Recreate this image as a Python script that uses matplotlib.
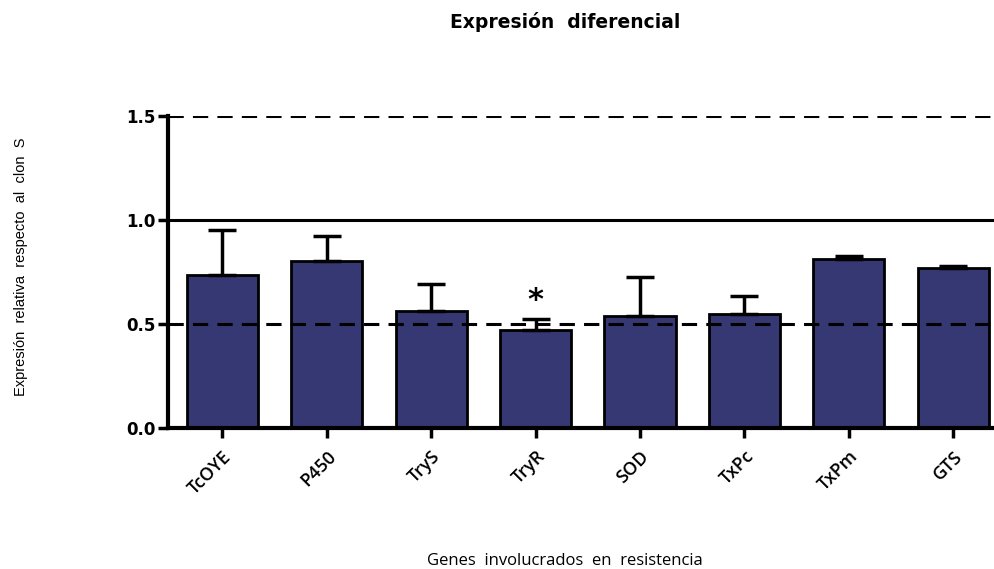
import matplotlib
matplotlib.use("Agg")
import matplotlib.pyplot as plt
import numpy as np

genes = ["TcOYE", "P450", "TryS", "TryR", "SOD", "TxPc", "TxPm", "GTS"]
means = [0.736, 0.803, 0.563, 0.471, 0.538, 0.548, 0.812, 0.769]
errors = [0.216, 0.120, 0.129, 0.053, 0.188, 0.087, 0.015, 0.010]
significant = ["", "", "", "*", "", "", "", ""]

fig = plt.figure(figsize=(9.94, 5.69), dpi=100)
ax = fig.add_axes([168/994, 141/569, 1 - 168/994, 312/569])

x = np.arange(len(genes))
ax.bar(x, means, width=0.68, color="#363873", edgecolor="black", linewidth=2, zorder=2)
ax.errorbar(x, means, yerr=[np.zeros(len(means)), errors], fmt="none",
            ecolor="black", elinewidth=2.5, capsize=10, capthick=2.5, zorder=3)

for yv, ls in [(1.5, (0, (5, 3))), (1.0, "-"), (0.5, (0, (5, 3)))]:
    ax.axhline(yv, color="black", lw=2.2, ls=ls, zorder=1 if yv != 0.5 else 4)

for xi, m, e, s in zip(x, means, errors, significant):
    if s:
        ax.text(xi, m + e + 0.02, s, ha="center", va="bottom", fontsize=22,
                fontweight="bold", family="DejaVu Sans")

ax.set_xlim(-0.52, 7.39)
ax.set_ylim(0, 1.5)
ax.set_yticks([0, 0.5, 1.0, 1.5])
ax.set_yticklabels(["0.0", "0.5", "1.0", "1.5"], fontsize=12, fontweight="bold",
                   family="DejaVu Sans")
ax.set_xticks(x)
ax.set_xticklabels(genes, rotation=45, ha="right", rotation_mode="anchor",
                   fontsize=13, family="Open Sans", fontweight="semibold")
ax.tick_params(axis="both", width=2.5, length=7, direction="out")
ax.tick_params(axis="y", pad=2)
ax.tick_params(axis="x", pad=7)
for sp in ["top", "right"]:
    ax.spines[sp].set_visible(False)
for sp in ["left", "bottom"]:
    ax.spines[sp].set_linewidth(3)

fig.text(565/994, 1 - 22/569, "Expresión  diferencial", ha="center", va="center",
         fontsize=13.5, fontweight="bold", family="DejaVu Sans")
fig.text(565/994, 1 - 561/569, "Genes  involucrados  en  resistencia", ha="center",
         va="center", fontsize=12, family="Open Sans")
fig.text(21/994, 1 - 267/569, "Expresión  relativa  respecto  al  clon  S", ha="center",
         va="center", rotation=90, fontsize=10.5, family="Liberation Sans")

fig.savefig("out.png", dpi=100)
